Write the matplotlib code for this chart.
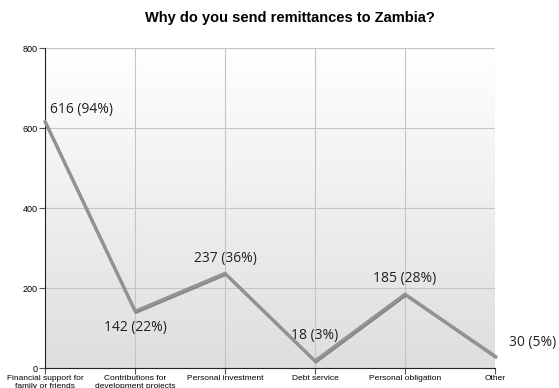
import numpy as np
import matplotlib
matplotlib.use("Agg")
import matplotlib.pyplot as plt
import matplotlib.patheffects as pe

categories = ["Financial support for\nfamily or friends", "Contributions for\ndevelopment projects",
              "Personal investment", "Debt service", "Personal obligation", "Other"]
counts = [616, 142, 237, 18, 185, 30]
percents = [94, 22, 36, 3, 28, 5]
yticks = [0, 200, 400, 600, 800]

fig = plt.figure(figsize=(5.59, 3.88), dpi=100)
ax = fig.add_axes([0.0805, 0.0515, 0.805, 0.8245])
x = np.arange(len(categories))

# light gradient background, white at top -> light gray at bottom
grad = np.linspace(0.0, 1.0, 256).reshape(-1, 1)
ax.imshow(grad, extent=[0, len(categories) - 1, 0, 800], aspect="auto",
          cmap=matplotlib.colors.LinearSegmentedColormap.from_list("bg", ["#ffffff", "#dedede"]),
          vmin=0, vmax=1, zorder=0)

ax.set_xlim(0, len(categories) - 1)
ax.set_ylim(0, 800)
ax.set_xticks(x)
ax.set_xticklabels(categories, fontsize=6, family="Liberation Sans", linespacing=1.3)
ax.set_yticks(yticks)
ax.set_yticklabels(yticks, fontsize=6.5, family="Liberation Sans")
ax.grid(True, color="#c4c4c4", lw=0.8, zorder=1)
ax.tick_params(length=4, width=0.8, color="#555555", pad=1)
for s in ["top", "right"]:
    ax.spines[s].set_visible(False)
ax.spines["left"].set_color("#222222")
ax.spines["bottom"].set_color("#222222")

ax.plot(x, counts, color="#939393", lw=2.2, zorder=3, clip_on=False,
        path_effects=[pe.SimpleLineShadow(offset=(0.6, -0.8), shadow_color="#444444", alpha=0.6),
                      pe.Normal()])

offsets = [(0.06, 30), (0.0, -40), (0.0, 38), (0.0, 64), (0.0, 40), (0.68, 35)]
has = ["left", "center", "center", "center", "center", "right"]
for xi, c, p, (dx, dy), ha in zip(x, counts, percents, offsets, has):
    ax.text(xi + dx, c + dy, f"{c} ({p}%)", fontsize=10, family="Open Sans", color="#222222",
            ha=ha, va="center", zorder=4, clip_on=False)

fig.text(0.518, 0.953, "Why do you send remittances to Zambia?", fontsize=10.5,
         fontweight="bold", family="Liberation Sans", ha="center", va="center")

fig.savefig("out.png", dpi=100)
